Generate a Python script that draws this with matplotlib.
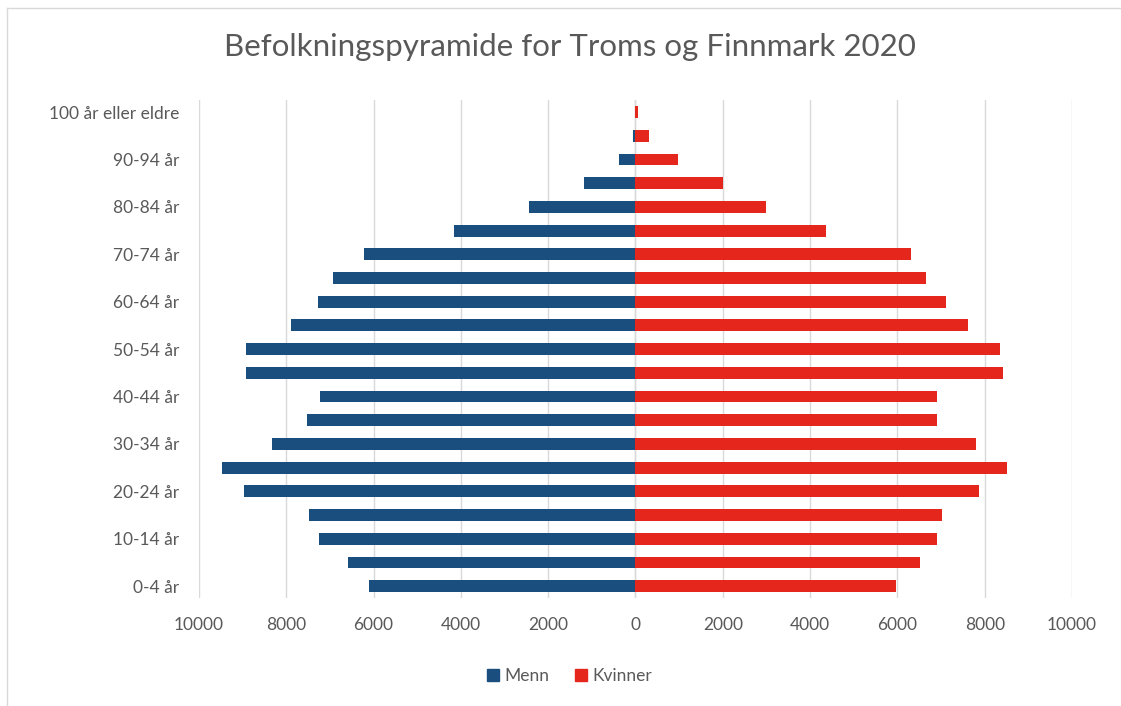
import matplotlib.pyplot as plt
from matplotlib.lines import Line2D
from matplotlib.patches import Patch
from matplotlib.ticker import FuncFormatter

# Age groups, bottom to top
age_groups = ["0-4 år", "5-9 år", "10-14 år", "15-19 år", "20-24 år", "25-29 år",
              "30-34 år", "35-39 år", "40-44 år", "45-49 år", "50-54 år", "55-59 år",
              "60-64 år", "65-69 år", "70-74 år", "75-79 år", "80-84 år", "85-89 år",
              "90-94 år", "95-99 år", "100 år eller eldre"]

menn = [6110, 6580, 7260, 7480, 8970, 9480, 8330, 7520, 7220, 8930, 8930, 7900,
        7270, 6920, 6230, 4160, 2450, 1170, 370, 60, 10]
kvinner = [5960, 6510, 6900, 7020, 7870, 8500, 7790, 6900, 6900, 8420, 8340, 7620,
           7110, 6650, 6300, 4360, 3000, 2000, 980, 300, 50]

blue = "#1a4e7e"
red = "#e4261c"
grey_text = "#595959"

plt.rcParams["font.family"] = ["Lato", "DejaVu Sans"]

fig = plt.figure(figsize=(11.21, 7.06), dpi=100)
ax = fig.add_axes([0.1775, 0.153, 0.7788, 0.705])

ypos = list(range(len(age_groups)))
ax.barh(ypos, [-m for m in menn], height=0.5, color=blue, label="Menn", zorder=3)
ax.barh(ypos, kvinner, height=0.5, color=red, label="Kvinner", zorder=3)

ax.set_xlim(-10000, 10000)
ax.set_ylim(-0.5, len(age_groups) - 0.5)
ax.set_xticks(range(-10000, 10001, 2000))
ax.xaxis.set_major_formatter(FuncFormatter(lambda v, p: f"{abs(int(v))}"))
ax.set_yticks(ypos[::2])
ax.set_yticklabels(age_groups[::2])

ax.grid(axis="x", color="#d9d9d9", linewidth=1, zorder=0)
ax.axvline(0, color="#d9d9d9", linewidth=1, zorder=1)
for s in ax.spines.values():
    s.set_visible(False)
ax.tick_params(axis="both", length=0, labelsize=12.5, labelcolor=grey_text)
ax.tick_params(axis="x", pad=14)
ax.tick_params(axis="y", pad=14)

fig.text(0.508, 0.934, "Befolkningspyramide for Troms og Finnmark 2020",
         ha="center", va="center", fontsize=22.5, color=grey_text)

handles = [Patch(color=blue, label="Menn"), Patch(color=red, label="Kvinner")]
fig.legend(handles=handles, loc="center", bbox_to_anchor=(0.508, 0.042), ncol=2,
           frameon=False, fontsize=12.5, labelcolor=grey_text, handlelength=0.7,
           handleheight=0.7, handletextpad=0.3, columnspacing=1.5)

# light border (top and left edges visible in the screenshot)
fig.add_artist(Line2D([0.0065, 1.0], [0.988, 0.988], transform=fig.transFigure,
                      color="#d9d9d9", linewidth=1))
fig.add_artist(Line2D([0.0065, 0.0065], [0.0, 0.988], transform=fig.transFigure,
                      color="#d9d9d9", linewidth=1))

fig.savefig("out.png", dpi=100)
